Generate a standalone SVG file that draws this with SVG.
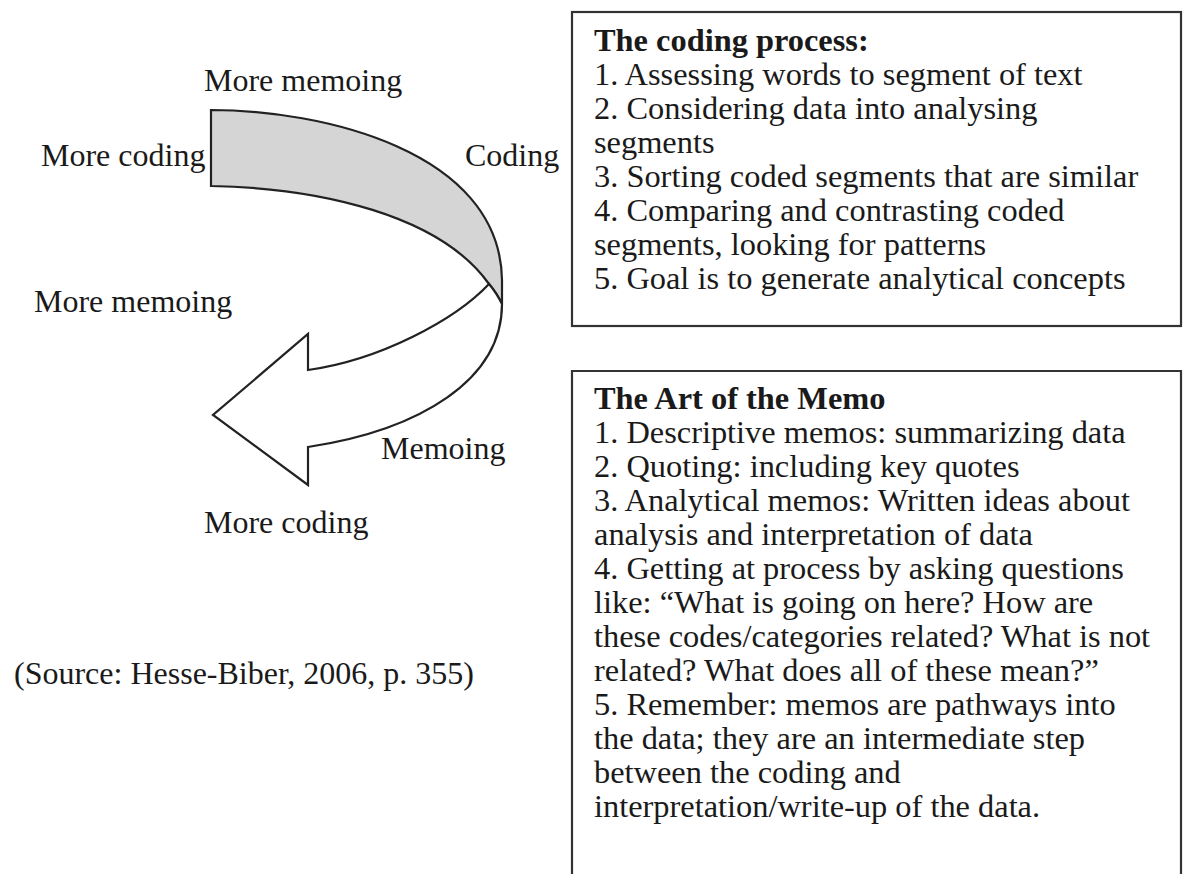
<svg xmlns="http://www.w3.org/2000/svg" width="1186" height="874" viewBox="0 0 1186 874">
<style>
.t{font-family:"Liberation Serif","Times New Roman",serif;font-size:32px;fill:#1a1a1a}
.bt{font-family:"Liberation Serif","Times New Roman",serif;font-size:32.4px;fill:#1a1a1a}
.b{font-weight:bold}
.box{fill:none;stroke:#333;stroke-width:2.2}
.shape{stroke:#222;stroke-width:2.2;stroke-linejoin:miter}
</style>
<rect width="1186" height="874" fill="#fff"/>
<g id="cycle-arrow">
<path class="shape" fill="#d5d5d5" d="M211,110 C320,110 500,150 502,280 L502,304 C499,298 495,291 489,284 C440,215 320,188 211,186 Z"/>
<path class="shape" fill="#fff" d="M489,284 C455,320 380,360 308,370 L308,334 L213,415 L308,485 L308,447 C420,430 502,380 502,304 C499,298 495,291 489,284 Z"/>
</g>
<g id="labels">
<text class="t" x="204" y="91">More memoing</text>
<text class="t" x="41" y="166">More coding</text>
<text class="t" x="465" y="166">Coding</text>
<text class="t" x="34" y="312">More memoing</text>
<text class="t" x="381" y="459">Memoing</text>
<text class="t" x="204" y="533">More coding</text>
<text class="t" x="14" y="684">(Source: Hesse-Biber, 2006, p. 355)</text>
</g>
<g id="coding-process">
<rect class="box" x="572" y="12" width="609" height="314"/>
<text class="bt b" x="594" y="51">The coding process:</text>
<text class="bt" x="594" y="85">1. Assessing words to segment of text</text>
<text class="bt" x="594" y="119">2. Considering data into analysing</text>
<text class="bt" x="594" y="153">segments</text>
<text class="bt" x="594" y="187">3. Sorting coded segments that are similar</text>
<text class="bt" x="594" y="221">4. Comparing and contrasting coded</text>
<text class="bt" x="594" y="255">segments, looking for patterns</text>
<text class="bt" x="594" y="289">5. Goal is to generate analytical concepts</text>
</g>
<g id="art-of-memo">
<path class="box" d="M572,880 L572,371 L1181,371 L1181,880"/>
<text class="bt b" x="594" y="409">The Art of the Memo</text>
<text class="bt" x="594" y="443">1. Descriptive memos: summarizing data</text>
<text class="bt" x="594" y="477">2. Quoting: including key quotes</text>
<text class="bt" x="594" y="511">3. Analytical memos: Written ideas about</text>
<text class="bt" x="594" y="545">analysis and interpretation of data</text>
<text class="bt" x="594" y="579">4. Getting at process by asking questions</text>
<text class="bt" x="594" y="613">like: “What is going on here? How are</text>
<text class="bt" x="594" y="647">these codes/categories related? What is not</text>
<text class="bt" x="594" y="681">related? What does all of these mean?”</text>
<text class="bt" x="594" y="715">5. Remember: memos are pathways into</text>
<text class="bt" x="594" y="749">the data; they are an intermediate step</text>
<text class="bt" x="594" y="783">between the coding and</text>
<text class="bt" x="594" y="817">interpretation/write-up of the data.</text>
</g>
</svg>
